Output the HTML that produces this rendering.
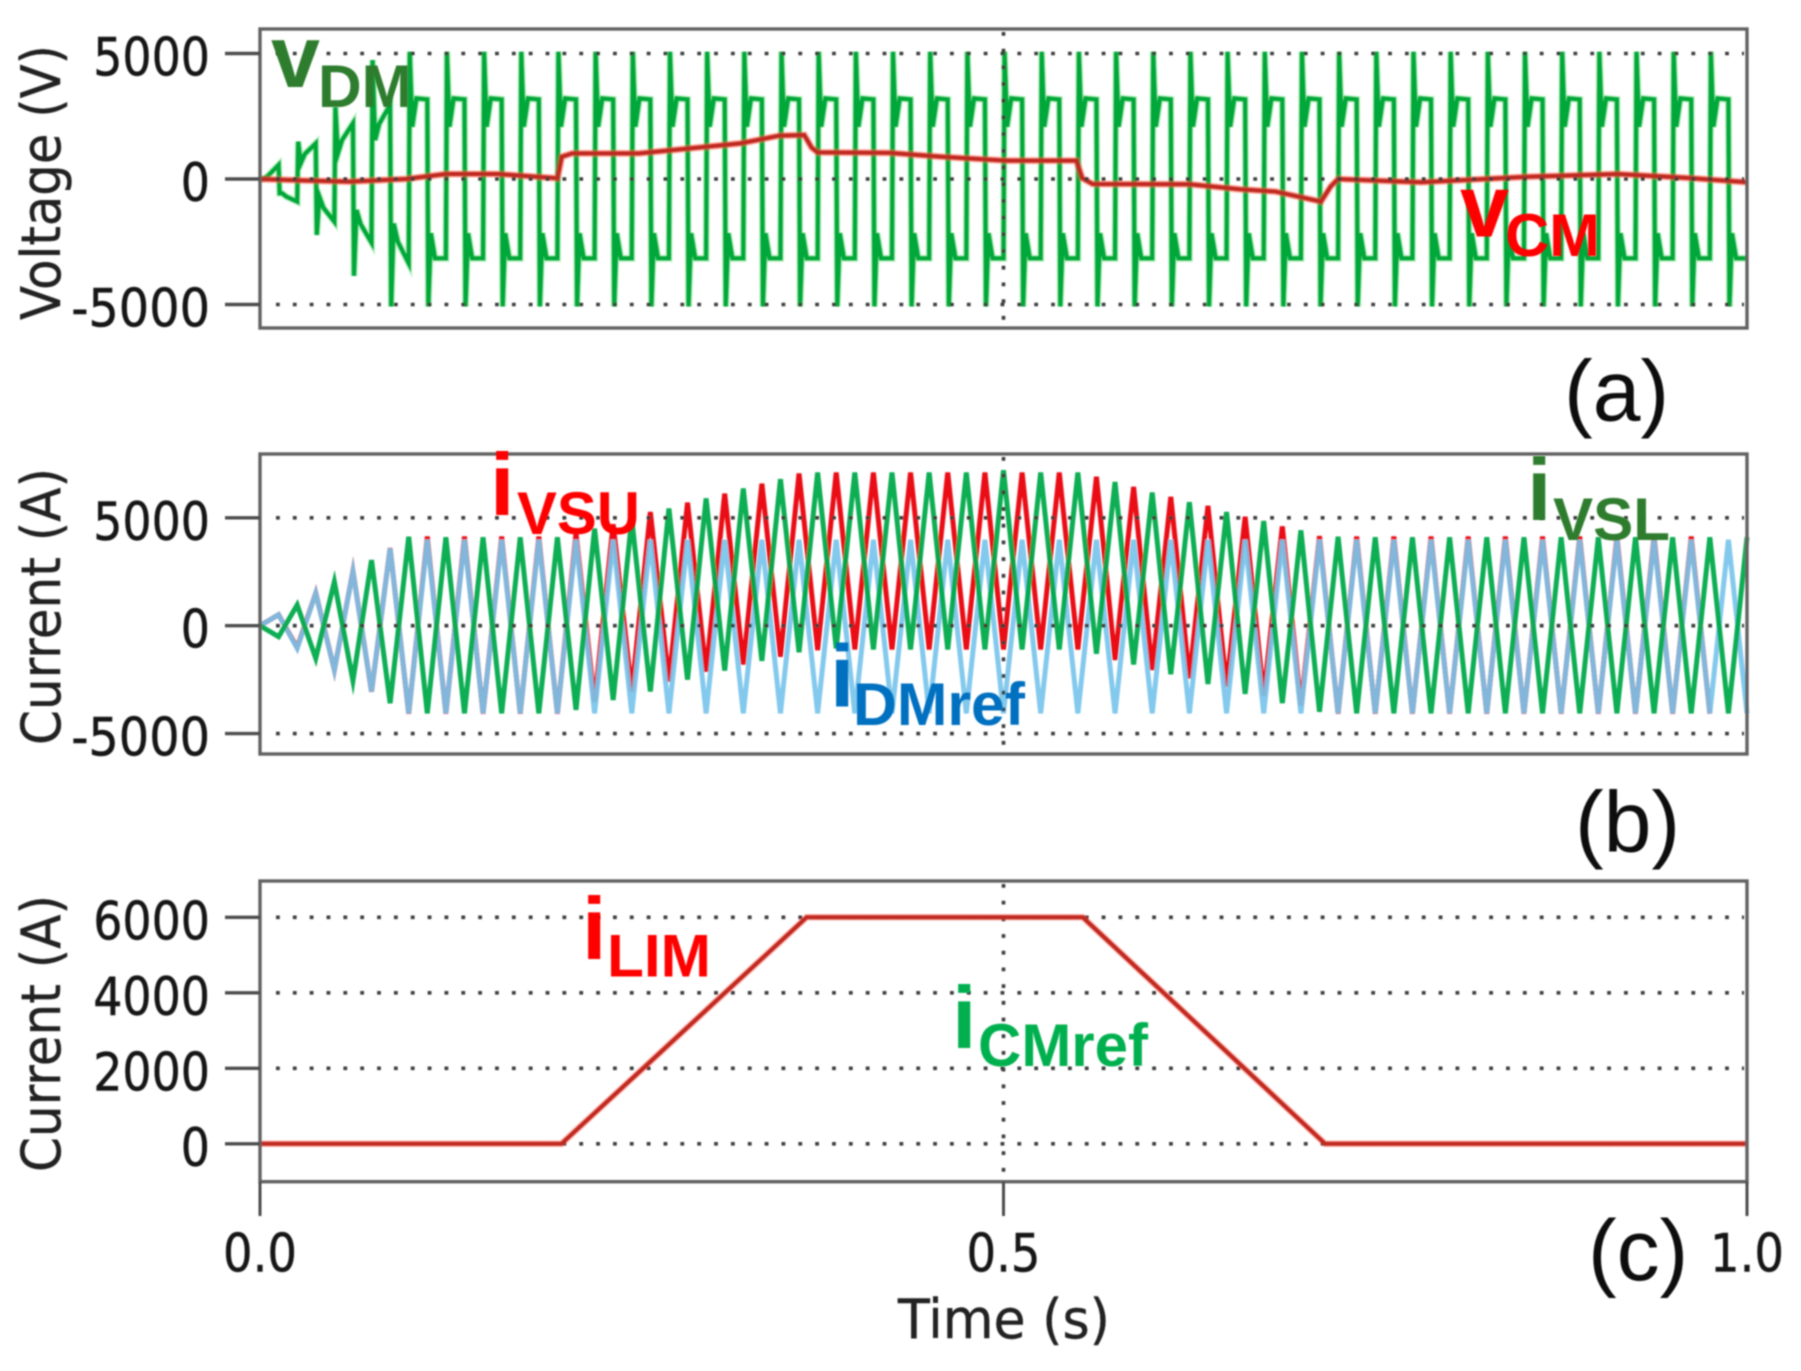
<!DOCTYPE html>
<html lang="en">
<head>
<meta charset="utf-8">
<title>Converter voltage and current waveforms</title>
<style>
html,body{margin:0;padding:0;background:#fff;}
#chart{display:block;width:1801px;height:1371px;background:#fff;}
.tick{font-family:"DejaVu Sans","Liberation Sans",sans-serif;font-size:52.7px;fill:#141414;stroke:#141414;stroke-width:0.5px;}
.title{font-family:"DejaVu Sans","Liberation Sans",sans-serif;font-size:54px;fill:#222;stroke:#222;stroke-width:0.4px;}
.panel{font-family:"Liberation Sans",sans-serif;font-size:86px;fill:#111;}
.big{font-family:"Liberation Sans",sans-serif;font-weight:bold;font-size:88px;}
.sub{font-family:"Liberation Sans",sans-serif;font-weight:bold;font-size:60px;}
</style>
</head>
<body>
<svg id="chart" xmlns="http://www.w3.org/2000/svg" width="1801" height="1371" viewBox="0 0 1801 1371">
  <defs>
    <filter id="soft" x="-2%" y="-2%" width="104%" height="104%"><feGaussianBlur stdDeviation="0.85"/></filter>
  </defs>
  <g id="plots" filter="url(#soft)"></g>
  <g filter="url(#soft)">
    <text class="title" x="60" y="320" transform="rotate(-90 60 320)" textLength="275" lengthAdjust="spacingAndGlyphs">Voltage (V)</text>
    <text class="title" x="60" y="745" transform="rotate(-90 60 745)" textLength="277" lengthAdjust="spacingAndGlyphs">Current (A)</text>
    <text class="title" x="60" y="1172" transform="rotate(-90 60 1172)" textLength="277" lengthAdjust="spacingAndGlyphs">Current (A)</text>
    <text class="title" x="898" y="1338" textLength="212" lengthAdjust="spacingAndGlyphs">Time (s)</text>

    <text class="panel" x="1564" y="420.7">(a)</text>
    <text class="panel" x="1575" y="851.6">(b)</text>
    <text class="panel" x="1588" y="1280">(c)</text>

    <g fill="#2e7d2e">
      <text class="big" x="271" y="87">v</text>
      <text class="sub" x="318" y="107" textLength="94" lengthAdjust="spacingAndGlyphs">DM</text>
    </g>
    <g fill="#ff0000">
      <text class="big" x="1460" y="236.7">v</text>
      <text class="sub" x="1505" y="256" textLength="95" lengthAdjust="spacingAndGlyphs">CM</text>
    </g>
    <g fill="#ff0000">
      <text class="big" x="490" y="515">i</text>
      <text class="sub" x="517" y="534" textLength="123" lengthAdjust="spacingAndGlyphs">VSU</text>
    </g>
    <g fill="#2e7d2e">
      <text class="big" x="1527" y="520">i</text>
      <text class="sub" x="1553" y="540" textLength="117" lengthAdjust="spacingAndGlyphs">VSL</text>
    </g>
    <g fill="#0070c0">
      <text class="big" x="830" y="706.7">i</text>
      <text class="sub" x="853" y="725" textLength="172" lengthAdjust="spacingAndGlyphs">DMref</text>
    </g>
    <g fill="#ff0000">
      <text class="big" x="582" y="959">i</text>
      <text class="sub" x="607" y="976.7" textLength="104" lengthAdjust="spacingAndGlyphs">LIM</text>
    </g>
    <g fill="#00b050">
      <text class="big" x="952" y="1048">i</text>
      <text class="sub" x="978" y="1066" textLength="170" lengthAdjust="spacingAndGlyphs">CMref</text>
    </g>
  </g>
</svg>
<script>
// ---------- axis tick data ----------
var xTicks = [0, 0.5, 1];
var xTickLabels = ["0.0", "0.5", "1.0"];
var yTicksA = [5000, 0, -5000];
var yTickLabelsA = ["5000", "0", "-5000"];
var yTicksB = [5000, 0, -5000];
var yTickLabelsB = ["5000", "0", "-5000"];
var yTicksC = [6000, 4000, 2000, 0];
var yTickLabelsC = ["6000", "4000", "2000", "0"];

// ---------- panel (a): converter voltages ----------
var vdmTime = [
  0,0.0125,0.025,0.0375,0.05,0.0625,0.075,0.0875,
  0.1,0.1125,0.125,0.1375,0.15,0.1625,0.175,0.1875,0.2,0.2125,0.225,0.2375,0.25,0.2625,0.275,0.2875,0.3,0.3125,0.325,0.3375,0.35,0.3625,0.375,0.3875,
  0.4,0.4125,0.425,0.4375,0.45,0.4625,0.475,0.4875,0.5,0.5125,0.525,0.5375,0.55,0.5625,0.575,0.5875,0.6,0.6125,0.625,0.6375,0.65,0.6625,0.675,0.6875,
  0.7,0.7125,0.725,0.7375,0.75,0.7625,0.775,0.7875,0.8,0.8125,0.825,0.8375,0.85,0.8625,0.875,0.8875,0.9,0.9125,0.925,0.9375,0.95,0.9625,0.975,0.9875];
var vdmPeak = [
  0,-570,1490,-2230,2870,-3860,4740,-5080,
  5070,-5080,5070,-5080,5070,-5080,5070,-5080,5070,-5080,5070,-5080,5070,-5080,5070,-5080,5070,-5080,5070,-5080,5070,-5080,5070,-5080,
  5070,-5080,5070,-5080,5070,-5080,5070,-5080,5070,-5080,5070,-5080,5070,-5080,5070,-5080,5070,-5080,5070,-5080,5070,-5080,5070,-5080,
  5070,-5080,5070,-5080,5070,-5080,5070,-5080,5070,-5080,5070,-5080,5070,-5080,5070,-5080,5070,-5080,5070,-5080,5070,-5080,5070,-5080];
var vdmRebound = [
  0,-570,625,-700,1020,-1235,1550,-1770,
  2080,-2160,2080,-2160,2080,-2160,2080,-2160,2080,-2160,2080,-2160,2080,-2160,2080,-2160,2080,-2160,2080,-2160,2080,-2160,2080,-2160,
  2080,-2160,2080,-2160,2080,-2160,2080,-2160,2080,-2160,2080,-2160,2080,-2160,2080,-2160,2080,-2160,2080,-2160,2080,-2160,2080,-2160,
  2080,-2160,2080,-2160,2080,-2160,2080,-2160,2080,-2160,2080,-2160,2080,-2160,2080,-2160,2080,-2160,2080,-2160,2080,-2160,2080,-2160];
var vdmKnee = [
  120,-700,1000,-1150,1550,-1800,2200,-2500,
  3210,-3160,3210,-3160,3210,-3160,3210,-3160,3210,-3160,3210,-3160,3210,-3160,3210,-3160,3210,-3160,3210,-3160,3210,-3160,3210,-3160,
  3210,-3160,3210,-3160,3210,-3160,3210,-3160,3210,-3160,3210,-3160,3210,-3160,3210,-3160,3210,-3160,3210,-3160,3210,-3160,3210,-3160,
  3210,-3160,3210,-3160,3210,-3160,3210,-3160,3210,-3160,3210,-3160,3210,-3160,3210,-3160,3210,-3160,3210,-3160,3210,-3160,3210,-3160];
var vdmEnd = [
  560,-900,1420,-1700,2220,-2540,2950,-3360,
  3170,-3160,3170,-3160,3170,-3160,3170,-3160,3170,-3160,3170,-3160,3170,-3160,3170,-3160,3170,-3160,3170,-3160,3170,-3160,3170,-3160,
  3170,-3160,3170,-3160,3170,-3160,3170,-3160,3170,-3160,3170,-3160,3170,-3160,3170,-3160,3170,-3160,3170,-3160,3170,-3160,3170,-3160,
  3170,-3160,3170,-3160,3170,-3160,3170,-3160,3170,-3160,3170,-3160,3170,-3160,3170,-3160,3170,-3160,3170,-3160,3170,-3160,3170,-3160];
var vcmTime = [0,0.03,0.06,0.098,0.125,0.16,0.2,0.203,0.21,0.255,0.323,0.3495,0.366,0.371,0.375,0.4235,0.457,0.5015,0.549,0.553,0.56,0.625,0.659,0.683,0.7135,0.72,0.725,0.781,0.853,0.913,0.961,1];
var vcmValue = [0,-60,-106,0,200,200,30,890,1020,1020,1420,1730,1750,1250,1060,1040,890,730,730,30,-200,-210,-410,-500,-900,-300,0,-130,90,200,40,-130];

// ---------- panel (b): arm currents and differential reference ----------
var apexTime = [0,0.0125,0.025,0.0375,0.05,0.0625,0.075,0.0875,0.1,0.1125,0.125,0.1375,0.15,0.1625,0.175,0.1875,0.2,0.2125,0.225,0.2375,0.25,0.2625,0.275,0.2875,0.3,0.3125,0.325,0.3375,0.35,0.3625,0.375,0.3875,0.4,0.4125,0.425,0.4375,0.45,0.4625,0.475,0.4875,0.5,0.5125,0.525,0.5375,0.55,0.5625,0.575,0.5875,0.6,0.6125,0.625,0.6375,0.65,0.6625,0.675,0.6875,0.7,0.7125,0.725,0.7375,0.75,0.7625,0.775,0.7875,0.8,0.8125,0.825,0.8375,0.85,0.8625,0.875,0.8875,0.9,0.9125,0.925,0.9375,0.95,0.9625,0.975,0.9875,1];
var ivsuApex = [0,510,-1000,1520,-2050,2530,-3060,3600,-4080,4130,-4080,4130,-4080,4130,-4080,4130,-4080,4280,-3530,4700,-3060,5270,-2590,5700,-2130,6120,-1800,6580,-1440,7050,-1130,7100,-1100,7100,-1100,7100,-1100,7100,-1100,7100,-1100,7100,-1100,7100,-1100,6900,-1590,6430,-2050,5970,-2440,5550,-2820,5050,-3250,4600,-3700,4150,-4080,4130,-4080,4130,-4080,4130,-4080,4130,-4080,4130,-4080,4130,-4080,4130,-4080,4130,-4080,4130,-4080,4130,-4080];
var idmrefApex = [0,510,-1050,1500,-2050,2500,-3050,3580,-4060,3980,-4060,3980,-4060,3980,-4060,3980,-4060,3980,-4060,3980,-4060,3980,-4060,3980,-4060,3980,-4060,3980,-4060,3980,-4060,3980,-4060,3980,-4060,3980,-4060,3980,-4060,3980,-4060,3980,-4060,3980,-4060,3980,-4060,3980,-4060,3980,-4060,3980,-4060,3980,-4060,3980,-4060,3980,-4060,3980,-4060,3980,-4060,3980,-4060,3980,-4060,3980,-4060,3980,-4060,3980,-4060,3980,-4060,3980,-4060,3980,-4060,3980,-4060];
var ivslApex = [0,-510,960,-1510,2035,-2545,3040,-3590,4120,-4060,4100,-4060,4100,-4060,4100,-4060,4100,-3900,4500,-3440,4960,-3050,5430,-2500,5900,-2080,6360,-1630,6790,-1230,7100,-1050,7100,-1100,7100,-1100,7100,-1100,7100,-1100,7200,-1100,7100,-1100,7100,-1300,6660,-1800,6170,-2250,5725,-2700,5270,-3160,4850,-3590,4420,-3990,4120,-4060,4100,-4060,4100,-4060,4100,-4060,4100,-4060,4100,-4060,4100,-4060,4100,-4060,4100,-4060,4100,-4060,4100,-4060,4100];

// ---------- panel (c): current limit ----------
var ilimTime = [0,0.2027,0.3676,0.5533,0.7163,1];
var ilimValue = [0,0,6000,6000,0,0];

// ---------- geometry and axis functions ----------
var SVGNS = "http://www.w3.org/2000/svg";
var plots = document.getElementById("plots");
var plotLeft = 260, plotRight = 1747;
function xScale(t){ return plotLeft + t * (plotRight - plotLeft); }
function yScaleA(v){ return 179 - v * 0.0251; }
function yScaleB(v){ return 625.7 - v * 0.02158; }
function yScaleC(v){ return 1143.8 - v * 0.03775; }

function mk(tag, parent){
  var el = document.createElementNS(SVGNS, tag);
  parent.appendChild(el);
  return el;
}
function lineTo(parent, x1, y1, x2, y2, stroke, width, dash){
  var el = mk("line", parent);
  el.setAttribute("x1", x1);
  el.setAttribute("y1", y1);
  el.setAttribute("x2", x2);
  el.setAttribute("y2", y2);
  el.setAttribute("stroke", stroke);
  el.setAttribute("stroke-width", width);
  if (dash) el.setAttribute("stroke-dasharray", dash);
  return el;
}
function polyline(parent, pts, stroke, width, opacity){
  var el = mk("polyline", parent);
  el.setAttribute("points", pts.join(" "));
  el.setAttribute("fill", "none");
  el.setAttribute("stroke", stroke);
  el.setAttribute("stroke-width", width);
  el.setAttribute("stroke-linejoin", "miter");
  el.setAttribute("stroke-miterlimit", "6");
  if (opacity) el.setAttribute("opacity", opacity);
  return el;
}
function pairPoints(times, values, yScale){
  var pts = [];
  for (var i = 0; i < times.length; i++) pts.push(xScale(times[i]).toFixed(2) + "," + yScale(values[i]).toFixed(2));
  return pts;
}
function tickLabelWidth(s){
  var w = 0;
  for (var i = 0; i < s.length; i++) w += s[i] === "-" ? 22 : 29.2;
  return w;
}
function drawGrid(parent, ticks, labels, yScale, top, bottom){
  var i, g = mk("g", parent);
  
  
  for (i = 0; i < ticks.length; i++) {
    var y = yScale(ticks[i]);
    var gl = lineTo(g, 276, y, 1744, y, "#3e3e3e", 3.6, "3.8 13.05");
    
    
  }
  var v = lineTo(g, xScale(0.5), top + 3, xScale(0.5), bottom - 3, "#3e3e3e", 3.6, "3.8 12.9");
  
  
}
function drawFrame(parent, ticks, labels, yScale, top, bottom){
  var i, g = mk("g", parent);
  
  
  var r = mk("rect", g);
  r.setAttribute("x", plotLeft);
  r.setAttribute("y", top);
  r.setAttribute("width", plotRight - plotLeft);
  r.setAttribute("height", bottom - top);
  r.setAttribute("fill", "none");
  r.setAttribute("stroke", "#626262");
  r.setAttribute("stroke-width", "3.4");
  
  
  for (i = 0; i < ticks.length; i++) {
    var y = yScale(ticks[i]);
    var st = lineTo(g, 225, y, plotLeft, y, "#4e4e4e", 3.4);
    
    
    var tx = mk("text", g);
    tx.setAttribute("class", "tick");
    tx.setAttribute("x", 210 - tickLabelWidth(labels[i]));
    tx.setAttribute("y", y + 22);
    tx.setAttribute("textLength", tickLabelWidth(labels[i]));
    tx.setAttribute("lengthAdjust", "spacingAndGlyphs");
    
    
    tx.textContent = labels[i];
  }
}

// ---------- panel (a) ----------
var panelA = mk("g", plots);


var vdmPts = [];
for (var n = 0; n < vdmTime.length; n++) {
  var T = vdmTime[n];
  var nextT = n + 1 < vdmTime.length ? vdmTime[n + 1] : 1;
  var pt = function (t, v) { vdmPts.push(xScale(t).toFixed(2) + "," + yScaleA(v).toFixed(2)); };
  pt(T + 0.0007, vdmPeak[n]);
  pt(T + 0.0024, vdmRebound[n]);
  pt(T + 0.0052, vdmKnee[n]);
  pt(nextT, vdmEnd[n]);
}
var vdmHalo = polyline(panelA, vdmPts, "#5ee07c", 7, 0.45);


var vdmLine = polyline(panelA, vdmPts, "#00a83a", 4.4);


var vcmHalo = polyline(panelA, pairPoints(vcmTime, vcmValue, yScaleA), "#ff4a3a", 7, 0.5);


var vcmLine = polyline(panelA, pairPoints(vcmTime, vcmValue, yScaleA), "#bf2a20", 4);


drawGrid(panelA, yTicksA, yTickLabelsA, yScaleA, 29, 328);
drawFrame(panelA, yTicksA, yTickLabelsA, yScaleA, 29, 328);

// ---------- panel (b) ----------
var panelB = mk("g", plots);


var ivsuLine = polyline(panelB, pairPoints(apexTime, ivsuApex, yScaleB), "#ea0f14", 5);


var idmLine = polyline(panelB, pairPoints(apexTime, idmrefApex, yScaleB), "#78c4ec", 5, 0.92);


var ivslLine = polyline(panelB, pairPoints(apexTime, ivslApex, yScaleB), "#00aa4c", 5, 0.95);


drawGrid(panelB, yTicksB, yTickLabelsB, yScaleB, 454, 754);
drawFrame(panelB, yTicksB, yTickLabelsB, yScaleB, 454, 754);

// ---------- panel (c) ----------
var panelC = mk("g", plots);


drawGrid(panelC, yTicksC, yTickLabelsC, yScaleC, 881, 1181.7);
var ilimHalo = polyline(panelC, pairPoints(ilimTime, ilimValue, yScaleC), "#ff4a3a", 6.5, 0.45);


var ilimLine = polyline(panelC, pairPoints(ilimTime, ilimValue, yScaleC), "#bf2a20", 4);


drawFrame(panelC, yTicksC, yTickLabelsC, yScaleC, 881, 1181.7);

// ---------- shared x axis ----------
var xAxis = mk("g", plots);


for (var k = 0; k < xTicks.length; k++) {
  var xk = xScale(xTicks[k]);
  var tm = lineTo(xAxis, xk, 1181.7, xk, 1216, "#4e4e4e", 3);
  
  
  var tl = mk("text", xAxis);
  tl.setAttribute("class", "tick");
  tl.setAttribute("x", xk - 37);
  tl.setAttribute("y", 1271.7);
  tl.setAttribute("textLength", 74);
  tl.setAttribute("lengthAdjust", "spacingAndGlyphs");
  
  
  tl.textContent = xTickLabels[k];
}
</script>
</body>
</html>
